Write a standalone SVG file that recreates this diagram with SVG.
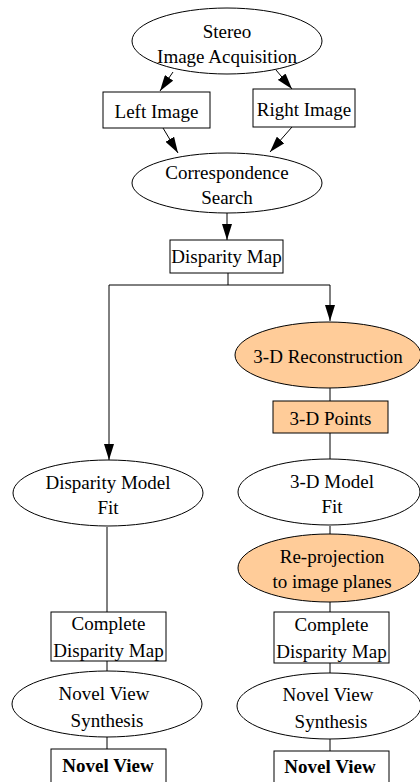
<svg xmlns="http://www.w3.org/2000/svg" width="420" height="782" viewBox="0 0 420 782">
<style>
  .n { fill: #ffffff; stroke: #000000; stroke-width: 1; }
  .h { fill: #ffcc99; stroke: #000000; stroke-width: 1; }
  .t { font-family: "Liberation Serif", "Times New Roman", serif; font-size: 19px; fill: #000000; text-anchor: middle; }
  .b { font-weight: bold; }
  .e { fill: none; stroke: #000000; stroke-width: 1; }
</style>
<defs>
  <marker id="arr" markerUnits="userSpaceOnUse" markerWidth="16" markerHeight="10" refX="16" refY="5" orient="auto">
    <path d="M0,0 L16,5 L0,10 z" fill="#000000"/>
  </marker>
</defs>
<rect width="420" height="782" fill="#ffffff"/>
<g id="connectors">
  <line class="e" x1="173" y1="72" x2="160" y2="91" marker-end="url(#arr)"/>
  <line class="e" x1="276" y1="70" x2="292" y2="89" marker-end="url(#arr)"/>
  <line class="e" x1="163" y1="128" x2="178" y2="153" marker-end="url(#arr)"/>
  <line class="e" x1="292" y1="127" x2="270" y2="152" marker-end="url(#arr)"/>
  <line class="e" x1="227" y1="213" x2="227" y2="240" marker-end="url(#arr)"/>
  <polyline class="e" points="228,273 228,285 109,285 109,460" marker-end="url(#arr)"/>
  <polyline class="e" points="228,285 330,285 330,321" marker-end="url(#arr)"/>
  <line class="e" x1="330" y1="388" x2="330" y2="401"/>
  <line class="e" x1="330" y1="433" x2="330" y2="459"/>
  <line class="e" x1="330" y1="526" x2="330" y2="534"/>
  <line class="e" x1="330" y1="602" x2="330" y2="612"/>
  <line class="e" x1="330" y1="663" x2="330" y2="673"/>
  <line class="e" x1="330" y1="739" x2="330" y2="751"/>
  <line class="e" x1="107" y1="527" x2="107" y2="612"/>
  <line class="e" x1="107" y1="661" x2="107" y2="671"/>
  <line class="e" x1="107" y1="737" x2="107" y2="749"/>
</g>
<g id="stereo">
  <ellipse class="n" cx="227" cy="41" rx="95" ry="33"/>
  <text class="t" x="227" y="38">Stereo</text>
  <text class="t" x="227" y="63">Image Acquisition</text>
</g>
<g id="left-image">
  <rect class="n" x="103" y="92" width="107" height="36"/>
  <text class="t" x="156.5" y="118">Left Image</text>
</g>
<g id="right-image">
  <rect class="n" x="253" y="89" width="102" height="38"/>
  <text class="t" x="304" y="116">Right Image</text>
</g>
<g id="correspondence">
  <ellipse class="n" cx="227" cy="183" rx="95" ry="30"/>
  <text class="t" x="227" y="179">Correspondence</text>
  <text class="t" x="227" y="204">Search</text>
</g>
<g id="disparity-map">
  <rect class="n" x="170" y="240" width="113" height="33"/>
  <text class="t" x="226.5" y="263">Disparity Map</text>
</g>
<g id="reconstruction">
  <ellipse class="h" cx="328" cy="355" rx="93" ry="33"/>
  <text class="t" x="328" y="363">3-D Reconstruction</text>
</g>
<g id="points">
  <rect class="h" x="273" y="401" width="115" height="32"/>
  <text class="t" x="330.5" y="425">3-D Points</text>
</g>
<g id="disparity-model-fit">
  <ellipse class="n" cx="108" cy="493" rx="95" ry="33"/>
  <text class="t" x="108" y="489">Disparity Model</text>
  <text class="t" x="108" y="514">Fit</text>
</g>
<g id="model-fit-3d">
  <ellipse class="n" cx="329" cy="492" rx="91" ry="33"/>
  <text class="t" x="332" y="488">3-D Model</text>
  <text class="t" x="332" y="513">Fit</text>
</g>
<g id="reprojection">
  <ellipse class="h" cx="329" cy="568" rx="91" ry="34"/>
  <text class="t" x="332" y="563">Re-projection</text>
  <text class="t" x="332" y="588">to image planes</text>
</g>
<g id="complete-left">
  <rect class="n" x="51" y="612" width="115" height="49"/>
  <text class="t" x="108.5" y="630">Complete</text>
  <text class="t" x="108.5" y="657">Disparity Map</text>
</g>
<g id="complete-right">
  <rect class="n" x="274" y="612" width="115" height="51"/>
  <text class="t" x="331.5" y="631">Complete</text>
  <text class="t" x="331.5" y="658">Disparity Map</text>
</g>
<g id="synthesis-left">
  <ellipse class="n" cx="107" cy="704" rx="95" ry="33"/>
  <text class="t" x="104" y="700">Novel View</text>
  <text class="t" x="107" y="727">Synthesis</text>
</g>
<g id="synthesis-right">
  <ellipse class="n" cx="329" cy="706" rx="92" ry="33"/>
  <text class="t" x="328" y="701">Novel View</text>
  <text class="t" x="331" y="728">Synthesis</text>
</g>
<g id="novel-left">
  <rect class="n" x="51" y="749" width="115" height="40"/>
  <text class="t b" x="108" y="772">Novel View</text>
</g>
<g id="novel-right">
  <rect class="n" x="274" y="751" width="115" height="40"/>
  <text class="t b" x="330" y="773">Novel View</text>
</g>
</svg>
